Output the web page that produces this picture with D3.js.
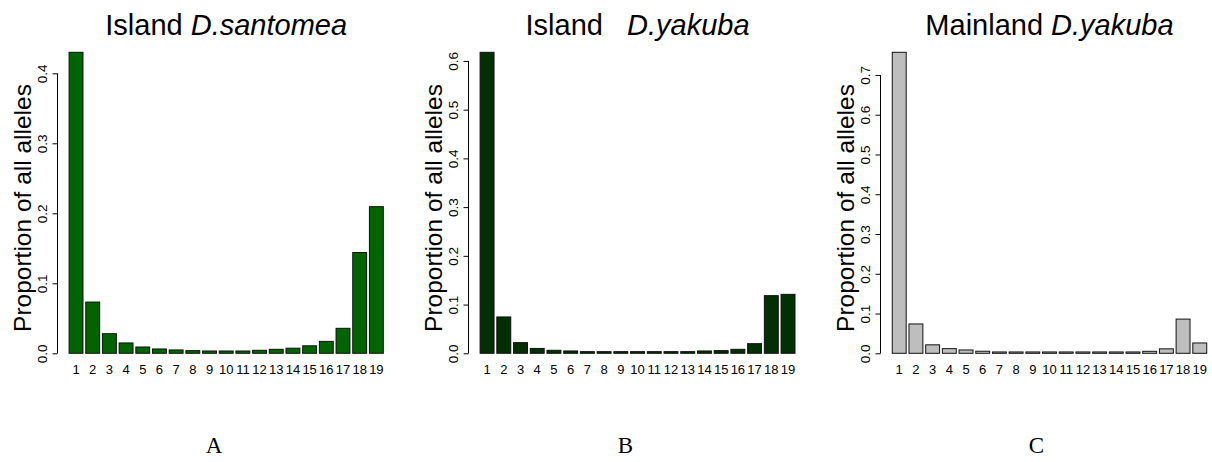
<!DOCTYPE html>
<html>
<head>
<meta charset="utf-8">
<script src="https://cdn.jsdelivr.net/npm/d3@7"></script>
<style>
  html, body { margin: 0; padding: 0; background: #fff; }
  svg { display: block; }
  text { font-family: "Liberation Sans", Arial, Helvetica, sans-serif; fill: #000; }
</style>
</head>
<body>
<svg id="chart" width="1212" height="462"></svg>
<script>
// Allele classes 1..19
const categories = d3.range(1, 20).map(String);

// Proportion of all alleles in each class
const santomeaIsland = [0.430, 0.0732, 0.0280, 0.0148, 0.0090, 0.0062, 0.0048, 0.0038, 0.0033, 0.0033,
                        0.0033, 0.0043, 0.0057, 0.0073, 0.0107, 0.0170, 0.0357, 0.1440, 0.2095];
const yakubaIsland   = [0.6177, 0.0746, 0.0219, 0.0100, 0.0062, 0.0048, 0.0034, 0.0034, 0.0034, 0.0034,
                        0.0034, 0.0034, 0.0034, 0.0048, 0.0055, 0.0082, 0.0198, 0.1183, 0.1210];
const yakubaMainland = [0.757, 0.0738, 0.0213, 0.0117, 0.0084, 0.0052, 0.0034, 0.0034, 0.0034, 0.0034,
                        0.0034, 0.0034, 0.0034, 0.0034, 0.0034, 0.0050, 0.0112, 0.0860, 0.0260];

// Tick labels on each y axis
const ticksA = [0, 0.1, 0.2, 0.3, 0.4];
const ticksB = [0, 0.1, 0.2, 0.3, 0.4, 0.5, 0.6];
const ticksC = [0, 0.1, 0.2, 0.3, 0.4, 0.5, 0.6, 0.7];

// Panel titles and letters
const titlePlain  = ["Island ", "Island   ", "Mainland "];
const titleItalic = ["D.santomea", "D.yakuba", "D.yakuba"];
const panelLetters = ["A", "B", "C"];

const panels = [
  { values: santomeaIsland, ticks: ticksA, fill: "#006400", left: 56.5,  right: 395.9,  letterX: 214 },
  { values: yakubaIsland,   ticks: ticksB, fill: "#023002", left: 467.5, right: 807.6,  letterX: 625.5 },
  { values: yakubaMainland, ticks: ticksC, fill: "#bebebe", left: 879.7, right: 1219.3, letterX: 1036.5 }
];

const svg = d3.select("#chart");
const baseY = 353.3, topY = 52.3;

panels.forEach((p, i) => {
  const g = svg.append("g");

  // barplot spacing: width 1, space 0.2, plus 4% range extension on both sides
  const x = d3.scaleBand()
    .domain(categories)
    .range([p.left, p.right])
    .paddingInner(0.2 / 1.2)
    .paddingOuter(0.904 / 1.2);

  const y = d3.scaleLinear()
    .domain([0, d3.max(p.values)])
    .range([baseY, topY]);

  // bars
  g.selectAll("rect.bar")
    .data(p.values)
    .join("rect")
    .attr("class", "bar")
    .attr("x", (d, k) => x(categories[k]))
    .attr("y", d => y(d))
    .attr("width", x.bandwidth())
    .attr("height", d => y(0) - y(d))
    .attr("fill", p.fill)
    .attr("stroke", "#111")
    .attr("stroke-width", 1);

  // bar names
  g.selectAll("text.name")
    .data(categories)
    .join("text")
    .attr("class", "name")
    .attr("x", d => x(d) + x.bandwidth() / 2)
    .attr("y", 374)
    .attr("text-anchor", "middle")
    .attr("font-size", 13)
    .text(d => d);

  // y axis
  const axisX = Math.round(p.left) + 0.5;
  const ax = g.append("g")
    .attr("transform", `translate(${axisX},0)`)
    .call(d3.axisLeft(y).tickValues(p.ticks).tickSize(5).tickFormat(d3.format(".1f")));
  ax.select(".domain").remove();
  ax.append("line")
    .attr("x1", 0).attr("x2", 0)
    .attr("y1", y(0)).attr("y2", y(p.ticks[p.ticks.length - 1]))
    .attr("stroke", "#000");
  ax.selectAll(".tick line").attr("stroke", "#000");
  ax.selectAll(".tick text")
    .attr("x", null).attr("dy", null)
    .attr("transform", "translate(-15.5,0) rotate(-90)")
    .attr("text-anchor", "middle")
    .attr("dominant-baseline", "central")
    .attr("font-size", 13.5)
    .attr("fill", "#000")
    .style("font-family", "'Liberation Sans', Arial, sans-serif");

  // y axis title
  g.append("text")
    .attr("transform", `translate(${p.left - 34},208) rotate(-90)`)
    .attr("text-anchor", "middle")
    .attr("dominant-baseline", "central")
    .attr("font-size", 24.5)
    .text("Proportion of all alleles");

  // panel title
  const t = g.append("text")
    .attr("x", (p.left + p.right) / 2)
    .attr("y", 34.5)
    .attr("text-anchor", "middle")
    .attr("font-size", 29)
    .style("white-space", "pre");
  t.append("tspan").text(titlePlain[i]);
  t.append("tspan").attr("font-style", "italic").text(titleItalic[i]);

  // panel letter
  svg.append("text")
    .attr("x", p.letterX)
    .attr("y", 453)
    .attr("text-anchor", "middle")
    .attr("font-size", 23)
    .style("font-family", "'Liberation Serif', 'DejaVu Serif', serif")
    .text(panelLetters[i]);
});
</script>
</body>
</html>
